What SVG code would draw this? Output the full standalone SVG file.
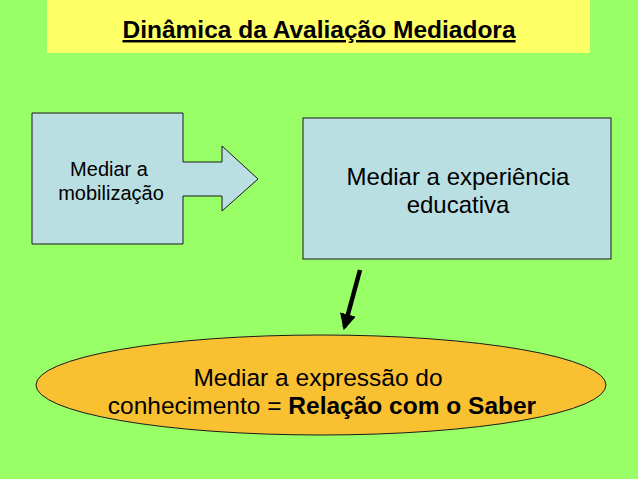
<svg xmlns="http://www.w3.org/2000/svg" width="638" height="479" viewBox="0 0 638 479">
  <defs>
    <style>
      .t { font-family: "Liberation Sans", Arial, sans-serif; fill: #000; text-anchor: middle; }
      .box { fill: #BADFE2; stroke: #1a1a1a; stroke-width: 1; }
    </style>
    <marker id="ah" viewBox="0 0 10 10" refX="8" refY="5" markerWidth="3.6" markerHeight="3.6" orient="auto" markerUnits="strokeWidth">
      <path d="M0,0 L10,5 L0,10 z" fill="#000"/>
    </marker>
  </defs>
  <rect x="0" y="0" width="638" height="479" fill="#99FF66"/>
  <g id="title">
    <rect x="47" y="0" width="543" height="53" fill="#FFFF66"/>
    <text class="t" x="319" y="38" font-size="24.5" font-weight="bold" text-decoration="underline">Dinâmica da Avaliação Mediadora</text>
  </g>
  <g id="mobilizacao">
    <polygon class="box" points="32,113 183,113 183,162 222,162 222,146 258,179 222,211 222,196 183,196 183,244 32,244"/>
    <text class="t" x="109" y="176" font-size="20">Mediar a</text>
    <text class="t" x="111" y="200" font-size="20">mobilização</text>
  </g>
  <g id="experiencia">
    <rect class="box" x="303" y="118" width="308" height="141"/>
    <text class="t" x="458" y="185" font-size="24">Mediar a experiência</text>
    <text class="t" x="458" y="213" font-size="24">educativa</text>
  </g>
  <g id="expressao">
    <ellipse cx="321" cy="385" rx="285" ry="50" fill="#F9C132" stroke="#1a1a1a" stroke-width="1"/>
    <text class="t" x="318" y="386" font-size="24.5">Mediar a expressão do</text>
    <text class="t" x="322" y="414" font-size="24.5">conhecimento = <tspan font-weight="bold">Relação com o Saber</tspan></text>
  </g>
  <g id="connectors">
    <line x1="360" y1="270" x2="344.5" y2="327" stroke="#000" stroke-width="4.5" marker-end="url(#ah)"/>
  </g>
</svg>
